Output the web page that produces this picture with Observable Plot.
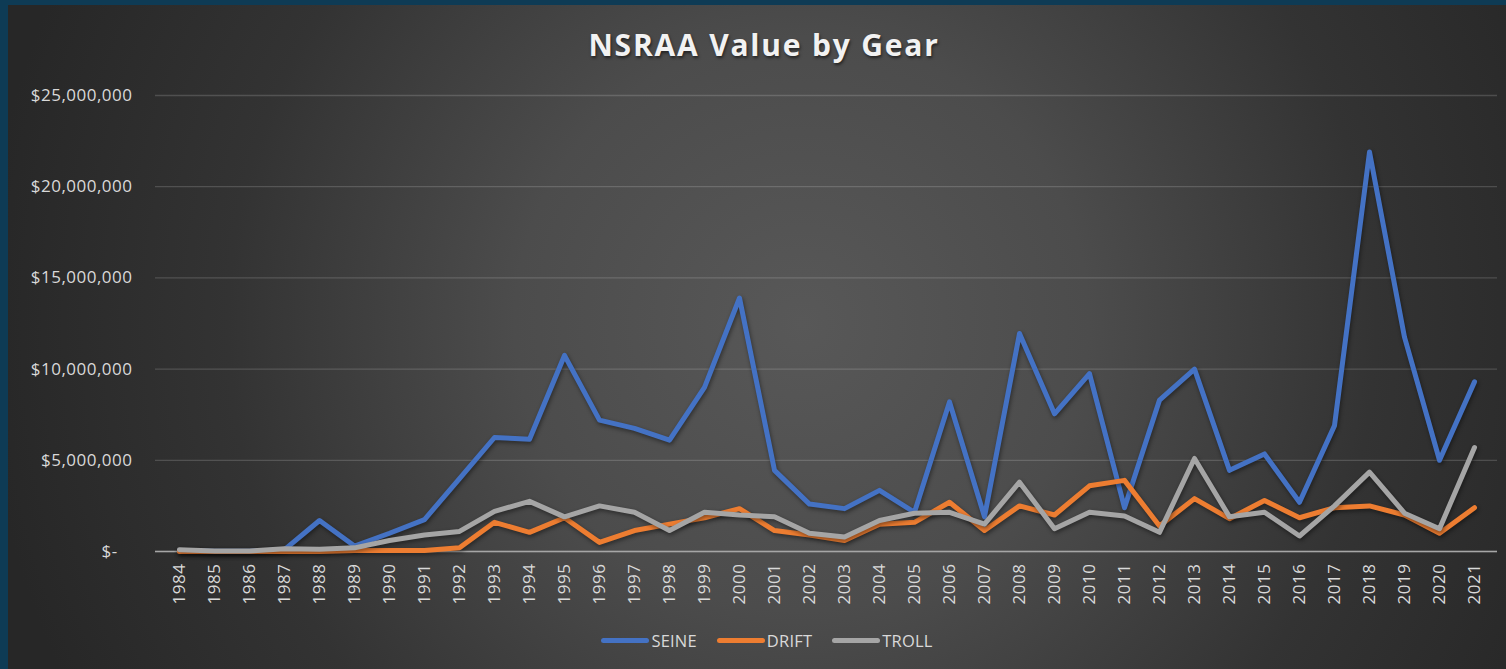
<!DOCTYPE html>
<html>
<head>
<meta charset="utf-8">
<script src="https://cdn.jsdelivr.net/npm/d3@7"></script>
<script src="https://cdn.jsdelivr.net/npm/@observablehq/plot@0.6"></script>
<style>
  html, body { margin: 0; padding: 0; background: #0e3b55; }
  #frame { position: relative; width: 1506px; height: 669px; background: #0e3b55; overflow: hidden; font-family: "Open Sans", sans-serif; }
  #bg { position: absolute; left: 8px; top: 5px; width: 1498px; height: 664px;
        background: radial-gradient(circle 820px at 53% 48%, #585858 0%, #4c4c4c 35%, #333333 70%, #272727 100%); }
  #chart { position: absolute; left: 0; top: 0; }
  #title { position: absolute; left: 0; top: 24px; width: 1528px; text-align: center; color: #f2f2f2;
           font-weight: 700; font-size: 30px; letter-spacing: 1.8px; text-shadow: 1px 2px 3px rgba(0,0,0,0.55); }
  #legend { position: absolute; left: 0; top: 629px; width: 1534px; display: flex; justify-content: center; align-items: center;
            color: #d9d9d9; font-size: 16.5px; letter-spacing: 0.2px; }
  .item { display: flex; align-items: center; margin: 0 10px; }
  .sw { width: 48px; height: 5px; border-radius: 3px; margin-right: 2px; }
</style>
</head>
<body>
<div id="frame">
  <div id="bg"></div>
  <div id="chart"></div>
  <div id="title">NSRAA Value by Gear</div>
  <div id="legend"></div>
</div>
<script>
const years = ["1984","1985","1986","1987","1988","1989","1990","1991","1992","1993","1994","1995","1996","1997","1998","1999","2000","2001","2002","2003","2004","2005","2006","2007","2008","2009","2010","2011","2012","2013","2014","2015","2016","2017","2018","2019","2020","2021"];
const seine = [50000,20000,20000,100000,1700000,300000,1000000,1750000,4000000,6250000,6150000,10750000,7200000,6750000,6100000,9000000,13900000,4450000,2600000,2350000,3350000,2150000,8200000,1900000,11950000,7550000,9750000,2400000,8300000,10000000,4450000,5350000,2700000,6900000,21900000,11750000,5000000,9300000];
const drift = [0,0,0,0,0,50000,50000,50000,200000,1600000,1050000,1850000,500000,1150000,1500000,1850000,2350000,1150000,900000,600000,1500000,1600000,2700000,1150000,2500000,2000000,3600000,3900000,1400000,2900000,1800000,2800000,1850000,2400000,2500000,2000000,1000000,2400000];
const troll = [100000,30000,30000,150000,120000,200000,600000,900000,1100000,2200000,2750000,1900000,2500000,2150000,1150000,2150000,2000000,1900000,1000000,800000,1700000,2100000,2150000,1500000,3800000,1250000,2150000,1950000,1050000,5100000,1900000,2150000,850000,2500000,4350000,2100000,1250000,5700000];
const gears = ["SEINE","DRIFT","TROLL"];
const gearColors = ["#4472c4","#ed7d31","#a5a5a5"];
const yTicks = [0,5000000,10000000,15000000,20000000,25000000];

const seriesValues = {SEINE: seine, DRIFT: drift, TROLL: troll};
const data = gears.flatMap(g => years.map((yr, i) => ({year: yr, value: seriesValues[g][i], gear: g})));

const fmt = d3.format(",");
const plot = Plot.plot({
  width: 1506,
  height: 620,
  marginTop: 95,
  marginBottom: 69,
  marginLeft: 155,
  marginRight: 9,
  style: {background: "transparent", color: "#d9d9d9", fontFamily: "Open Sans, sans-serif", letterSpacing: "0.5px"},
  x: {type: "point", domain: years, padding: 0.5, label: null},
  y: {domain: [0, 25000000], label: null},
  color: {domain: gears, range: gearColors},
  marks: [
    Plot.gridY(yTicks, {stroke: "#ffffff", strokeOpacity: 0.16, strokeWidth: 1.3}),
    Plot.ruleY([0], {stroke: "#a6a6a6", strokeWidth: 1.5}),
    Plot.axisY(yTicks, {tickSize: 0, tickPadding: 23, fill: "#d9d9d9", fontSize: 17, tickFormat: d => d === 0 ? "$-\u00a0\u00a0\u00a0" : "$" + fmt(d)}),
    Plot.axisX({tickSize: 0, tickPadding: 12, tickRotate: -90, fill: "#d9d9d9", fontSize: 17}),
    Plot.line(data, {x: "year", y: "value", z: "gear", stroke: "gear", strokeWidth: 5, strokeLinejoin: "round", strokeLinecap: "round"})
  ]
});
document.getElementById("chart").appendChild(plot);
d3.select(plot).selectAll("g[aria-label='line'] path").style("filter", "drop-shadow(1px 2px 2px rgba(0,0,0,0.45))");

const legend = d3.select("#legend");
gears.forEach((g, i) => {
  const it = legend.append("div").attr("class", "item");
  it.append("div").attr("class", "sw").style("background", gearColors[i]);
  it.append("span").text(g);
});
</script>
</body>
</html>
